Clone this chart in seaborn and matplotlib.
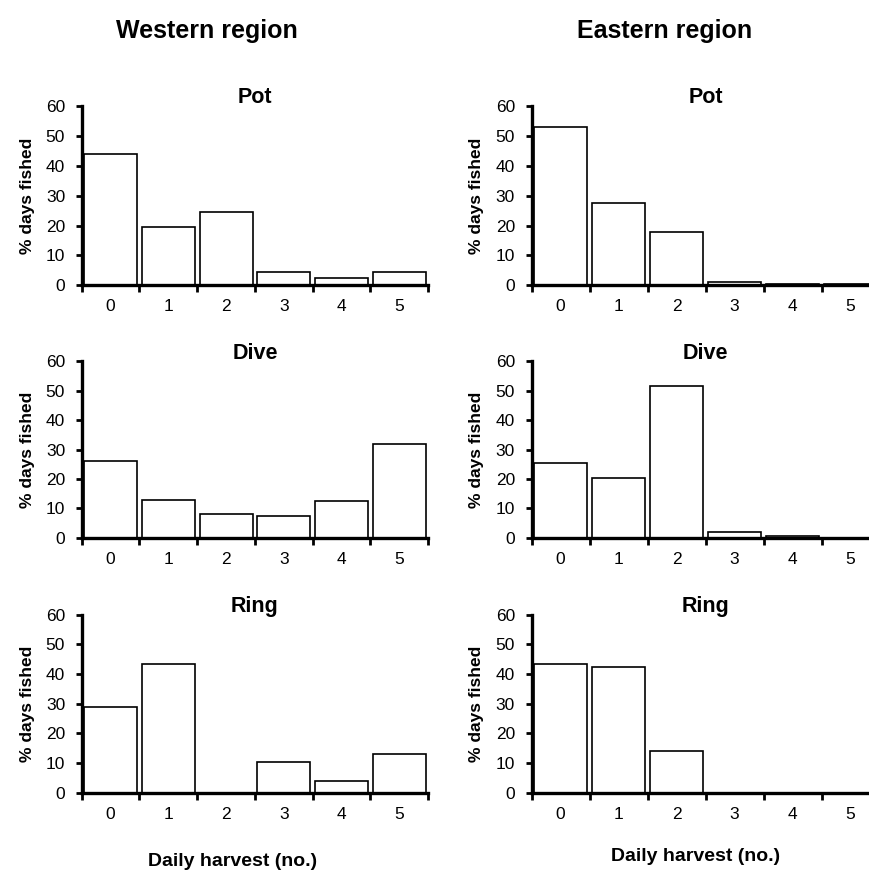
import numpy as np
import pandas as pd
import matplotlib
matplotlib.use("Agg")
import matplotlib.pyplot as plt
import seaborn as sns

sns.set_style("white")
plt.rcParams['font.family'] = ['Liberation Sans', 'DejaVu Sans']
plt.rcParams['text.color'] = 'black'
plt.rcParams['axes.labelcolor'] = 'black'
plt.rcParams['xtick.color'] = 'black'
plt.rcParams['ytick.color'] = 'black'

# Daily harvest categories
harvest = ['0', '1', '2', '3', '4', '5']
gears = ['Pot', 'Dive', 'Ring']

# % days fished
west_pot = [44, 19.5, 24.5, 4.5, 2.5, 4.5]
west_dive = [26, 13, 8, 7.5, 12.5, 32]
west_ring = [29, 43.5, 0, 10.5, 4, 13]
east_pot = [53, 27.5, 18, 1, 0.5, 0.5]
east_dive = [25.5, 20.5, 51.5, 2, 0.5, 0]
east_ring = [43.5, 42.5, 14, 0, 0, 0]

west = [west_pot, west_dive, west_ring]
east = [east_pot, east_dive, east_ring]

fig = plt.figure(figsize=(8.7, 8.73), dpi=100)

col_left = [0.094, 0.611]
col_width = [0.398, 0.40]
row_bottom = [0.673, 0.384, 0.092]
row_height = [0.206, 0.202, 0.204]


def draw_panel(ax, values, title):
    df = pd.DataFrame({'harvest': harvest, 'pct': values})
    sns.barplot(data=df, x='harvest', y='pct', ax=ax, color='white',
                edgecolor='black', linewidth=1.2, width=0.92, saturation=1)
    ax.set_xlim(-0.5, 5.5)
    ax.set_ylim(0, 60)
    ax.set_yticks(np.arange(0, 61, 10))
    ax.set_xticks(np.arange(-0.5, 6, 1))
    ax.set_xticklabels([])
    ax.set_xticks(np.arange(6), minor=True)
    ax.set_xticklabels(harvest, minor=True)
    ax.tick_params(axis='x', which='major', direction='out', length=5, width=2, bottom=True)
    ax.tick_params(axis='x', which='minor', length=0, labelsize=12.5, pad=10)
    ax.tick_params(axis='y', direction='out', length=4, width=2, left=True, labelsize=12.5, pad=8)
    for s in ['top', 'right']:
        ax.spines[s].set_visible(False)
    for s in ['left', 'bottom']:
        ax.spines[s].set_linewidth(2.4)
        ax.spines[s].set_color('black')
    ax.set_xlabel('')
    ax.set_ylabel('% days fished', fontsize=12.5, fontweight='bold', labelpad=8)
    ax.set_title(title, fontsize=15.5, fontweight='bold', pad=2)


for c, data in enumerate([west, east]):
    for r in range(3):
        ax = fig.add_axes([col_left[c], row_bottom[r], col_width[c], row_height[r]])
        draw_panel(ax, data[r], gears[r])

fig.text(0.238, 0.965, 'Western region', ha='center', va='center', fontsize=18, fontweight='bold')
fig.text(0.764, 0.965, 'Eastern region', ha='center', va='center', fontsize=18, fontweight='bold')
fig.text(0.267, 0.004, 'Daily harvest (no.)', ha='center', va='bottom', fontsize=14, fontweight='bold')
fig.text(0.799, 0.009, 'Daily harvest (no.)', ha='center', va='bottom', fontsize=14, fontweight='bold')

fig.savefig('out.png', dpi=100)
